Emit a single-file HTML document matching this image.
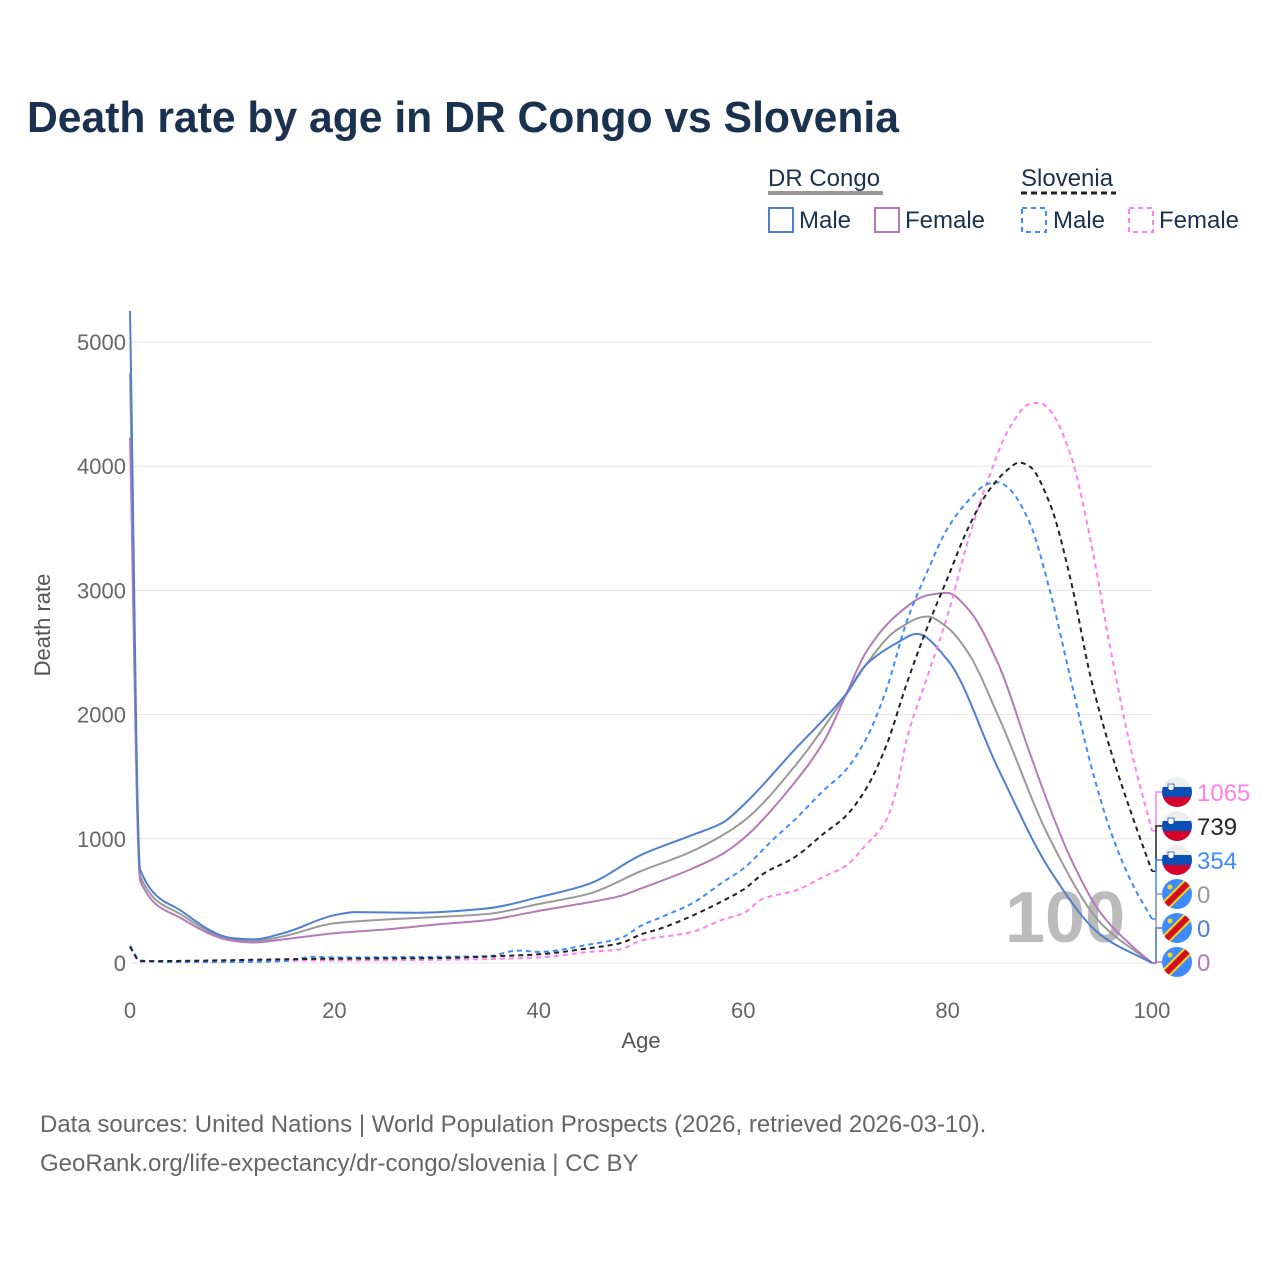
<!DOCTYPE html>
<html><head><meta charset="utf-8">
<style>
body{margin:0;background:#fff;font-family:"Liberation Sans",sans-serif;}
svg text{font-family:"Liberation Sans",sans-serif;}
</style></head>
<body>
<svg id="chart" width="1280" height="1280" viewBox="0 0 1280 1280" xmlns="http://www.w3.org/2000/svg">
<rect width="1280" height="1280" fill="#fff"/>
<text x="27" y="132" font-size="44" font-weight="bold" fill="#1b3150" textLength="872" lengthAdjust="spacingAndGlyphs">Death rate by age in DR Congo vs Slovenia</text>
<g>
  <text x="768" y="186" font-size="24" fill="#1b3150">DR Congo</text>
  <line x1="768" y1="193" x2="883" y2="193" stroke="#999" stroke-width="4"/>
  <text x="1021" y="186" font-size="24" fill="#1b3150">Slovenia</text>
  <line x1="1021" y1="193" x2="1116" y2="193" stroke="#222" stroke-width="3" stroke-dasharray="6,4"/>
  <rect x="769" y="208" width="24" height="24" fill="none" stroke="#4f7fcf" stroke-width="2"/>
  <text x="799" y="228" font-size="24" fill="#1b3150">Male</text>
  <rect x="875" y="208" width="24" height="24" fill="none" stroke="#b57ab8" stroke-width="2"/>
  <text x="905" y="228" font-size="24" fill="#1b3150">Female</text>
  <rect x="1022" y="208" width="24" height="24" fill="none" stroke="#3d8bff" stroke-width="2" stroke-dasharray="5,4"/>
  <text x="1053" y="228" font-size="24" fill="#1b3150">Male</text>
  <rect x="1129" y="208" width="24" height="24" fill="none" stroke="#ff80f0" stroke-width="2" stroke-dasharray="5,4"/>
  <text x="1159" y="228" font-size="24" fill="#1b3150">Female</text>
</g>
<g id="grid"></g>
<text x="1005" y="942" font-size="72" font-weight="bold" fill="#bbb">100</text>
<g id="lines"></g>
<g id="endlabels"></g>
<text x="50" y="625" font-size="22" fill="#555" transform="rotate(-90 50 625)" text-anchor="middle">Death rate</text>
<text x="641" y="1048" font-size="22" fill="#555" text-anchor="middle">Age</text>
<text x="40" y="1132" font-size="24" fill="#666">Data sources: United Nations | World Population Prospects (2026, retrieved 2026-03-10).</text>
<text x="40" y="1171" font-size="24" fill="#666">GeoRank.org/life-expectancy/dr-congo/slovenia | CC BY</text>
</svg>
<script>
const xTicks=[0,20,40,60,80,100];
const yTicks=[0,1000,2000,3000,4000,5000];
const drcMaleAges=[0,1,5,10,12,15,20,22,28,35,40,45,50,55,58,60,65,70,72,75,77,80,85,90,95,100];
const drcMaleVals=[5250,750,420,200,190,240,385,410,405,440,530,640,870,1030,1130,1270,1715,2160,2400,2575,2650,2440,1555,750,225,0];
const drcFemAges=[0,1,5,10,12,15,20,25,30,35,40,45,48,50,55,58,60,65,68,70,72,75,78,80,82,85,88,90,92,95,98,100];
const drcFemVals=[4230,660,360,180,165,190,240,270,310,345,420,490,540,600,760,880,1000,1450,1800,2150,2500,2800,2960,2980,2850,2400,1700,1250,850,400,140,0];
const drcTotAges=[0,1,5,10,12,15,20,25,30,35,40,45,50,55,60,65,70,72,75,78,80,82,85,90,95,100];
const drcTotVals=[4750,700,390,190,175,215,320,350,370,395,475,560,740,900,1140,1580,2150,2400,2680,2790,2700,2500,1980,1000,320,0];
const svnMaleAges=[0,1,5,10,15,18,20,30,35,38,40,45,48,50,52,55,58,60,63,65,68,70,72,74,76,78,80,82,84,85,86,88,90,92,94,96,98,100];
const svnMaleVals=[140,20,8,8,15,50,45,50,55,100,90,150,200,300,370,480,650,760,1000,1150,1400,1550,1800,2200,2750,3150,3500,3720,3860,3870,3820,3550,3000,2300,1600,1050,650,354];
const svnTotAges=[0,1,20,30,36,40,45,48,50,52,55,58,60,62,65,68,70,72,74,76,78,80,82,84,86,87,88,90,92,94,96,98,100];
const svnTotVals=[130,15,35,40,55,70,120,160,230,280,380,500,590,720,850,1050,1180,1400,1750,2250,2700,3100,3500,3800,3980,4030,4000,3700,3100,2300,1700,1200,739];
const svnFemAges=[0,1,20,30,40,45,48,50,55,58,60,62,65,68,70,72,74,75,76,78,80,82,84,86,88,89,90,92,94,96,98,100];
const svnFemVals=[130,12,20,25,45,90,110,180,250,350,400,520,580,700,780,950,1150,1400,1800,2300,2800,3400,3900,4300,4500,4510,4450,4100,3400,2500,1700,1065];
const endValues=[1065,739,354,0,0,0];

const NS="http://www.w3.org/2000/svg";
const X=a=>130+a*10.22;
const Y=v=>963-v*0.1242;
function mk(tag,attrs,parent){const e=document.createElementNS(NS,tag);for(const k in attrs)e.setAttribute(k,attrs[k]);parent.appendChild(e);return e;}
const grid=document.getElementById('grid');
yTicks.forEach(t=>{
  const l=mk('line',{x1:130,x2:1152,y1:Y(t),y2:Y(t),stroke:'#e6e6e6','stroke-width':1},grid);
  
  
  const tx=mk('text',{x:126,y:Y(t)+8,'font-size':22,fill:'#666','text-anchor':'end'},grid);
  tx.textContent=t;
  
  
});
xTicks.forEach(t=>{
  const tx=mk('text',{x:X(t),y:1018,'font-size':22,fill:'#666','text-anchor':'middle'},grid);
  tx.textContent=t;
  
  
});
// monotone cubic (Fritsch-Carlson)
function path(ages,vals){
  const xs=ages.map(X), ys=vals.map(Y), n=xs.length;
  const d=[],m=new Array(n);
  for(let i=0;i<n-1;i++)d.push((ys[i+1]-ys[i])/(xs[i+1]-xs[i]));
  m[0]=d[0];m[n-1]=d[n-2];
  for(let i=1;i<n-1;i++){
    if(d[i-1]*d[i]<=0)m[i]=0;
    else{const h0=xs[i]-xs[i-1],h1=xs[i+1]-xs[i];const w1=2*h1+h0,w2=h1+2*h0;m[i]=(w1+w2)/(w1/d[i-1]+w2/d[i]);}
  }
  let s='M'+xs[0]+','+ys[0];
  for(let i=0;i<n-1;i++){
    const h=(xs[i+1]-xs[i])/3;
    s+=` C${xs[i]+h},${ys[i]+m[i]*h} ${xs[i+1]-h},${ys[i+1]-m[i+1]*h} ${xs[i+1]},${ys[i+1]}`;
  }
  return s;
}
const lines=document.getElementById('lines');
const series=[
 [drcTotAges,drcTotVals,'#999',null,'line-drc-total'],
 [drcFemAges,drcFemVals,'#b57ab8',null,'line-drc-female'],
 [drcMaleAges,drcMaleVals,'#4f7fcf',null,'line-drc-male'],
 [svnFemAges,svnFemVals,'#ff80f0','5,4','line-svn-female'],
 [svnMaleAges,svnMaleVals,'#3d8bff','5,4','line-svn-male'],
 [svnTotAges,svnTotVals,'#222','5,4','line-svn-total'],
];
series.forEach(s=>{
  const a={d:path(s[0],s[1]),fill:'none',stroke:s[2],'stroke-width':2};
  if(s[3])a['stroke-dasharray']=s[3];
  const e=mk('path',a,lines);
  
  
});
const el=document.getElementById('endlabels');
const lblCols=['#ff80f0','#222','#3d8bff','#999','#4f7fcf','#b57ab8'];
const lblY=[792,826,860,894,928,962];
const svnFlag=[true,true,true,false,false,false];
endValues.forEach((v,i)=>{
  const cy=lblY[i];
  mk('polyline',{points:`${1152},${Y(v)} ${1156},${Y(v)} ${1156},${cy} ${1162},${cy}`,fill:'none',stroke:lblCols[i],'stroke-width':1.5},el);
  const g=mk('g',{},el);
  
  
  const cid='c'+i;
  const cp=mk('clipPath',{id:cid},g);mk('circle',{cx:1177,cy:cy,r:15},cp);
  const gg=mk('g',{'clip-path':`url(#${cid})`},g);
  if(svnFlag[i]){
    mk('rect',{x:1162,y:cy-15,width:30,height:10,fill:'#eee'},gg);
    mk('rect',{x:1162,y:cy-5,width:30,height:10,fill:'#0a4fb5'},gg);
    mk('rect',{x:1162,y:cy+5,width:30,height:10,fill:'#d5002b'},gg);
    mk('path',{d:`M1168,${cy-8} h6 v5 q-3,3 -6,0 z`,fill:'#fff',stroke:'#0a4fb5','stroke-width':0.8},gg);
  }else{
    mk('rect',{x:1162,y:cy-15,width:30,height:30,fill:'#3d8bff'},gg);
    mk('line',{x1:1162,y1:cy+15,x2:1192,y2:cy-15,stroke:'#f7d618','stroke-width':10},gg);
    mk('line',{x1:1162,y1:cy+15,x2:1192,y2:cy-15,stroke:'#ce1021','stroke-width':6},gg);
    mk('circle',{cx:1170,cy:cy-7,r:2.5,fill:'#f7d618'},gg);
  }
  const t=mk('text',{x:1197,y:cy+9,'font-size':24,fill:lblCols[i]},el);
  t.textContent=v;
  
  
});
</script>
</body></html>
